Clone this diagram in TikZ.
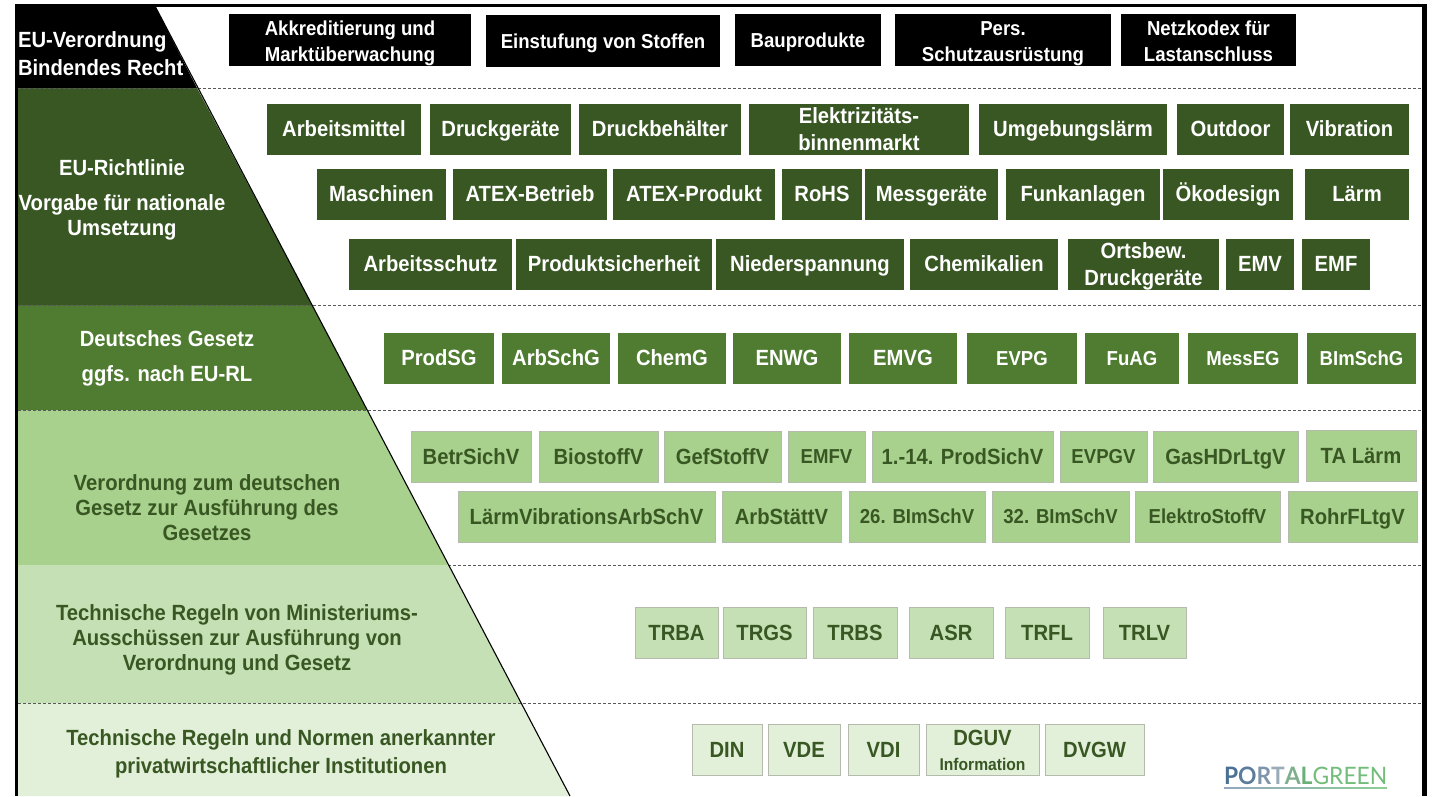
\documentclass[tikz,border=0pt]{standalone}
\usepackage{fontspec}
\setmainfont[FakeStretch=0.92]{Liberation Sans}
\newfontfamily\logofont[FakeStretch=0.95]{Lato}
\definecolor{bandblack}{HTML}{000000}
\definecolor{banddark}{HTML}{385723}
\definecolor{bandmid}{HTML}{4F7C31}
\definecolor{bandlight}{HTML}{A9D18E}
\definecolor{bandpale}{HTML}{C5E0B4}
\definecolor{bandfaint}{HTML}{E2F0D9}
\definecolor{boxedge}{HTML}{B4BBAC}
\definecolor{logoleft}{HTML}{93A8C0}
\definecolor{logomiddle}{HTML}{C4CFDA}
\definecolor{logoright}{HTML}{8CCE94}
\newcommand{\boxstrut}{\rule[-0.25em]{0pt}{1.2em}}
\tikzset{
    every node/.style={inner sep=0pt, outer sep=0pt},
    bigtext/.style={font=\bfseries\fontsize{22}{26}\selectfont},
    smalltext/.style={font=\bfseries\fontsize{20.2}{26}\selectfont},
    regbox/.style={minimum height=51pt, align=center, bigtext,
        execute at begin node=\boxstrut, execute at end node=\boxstrut},
    twolines/.style={text height=42.4pt, text depth=0pt},
    blackbox/.style={regbox, minimum height=52pt, fill=bandblack, text=white, smalltext},
    darkbox/.style={regbox, fill=banddark, text=white},
    midbox/.style={regbox, fill=bandmid, text=white},
    lightbox/.style={regbox, fill=bandlight, text=banddark, draw=boxedge, line width=0.6pt},
    palebox/.style={regbox, fill=bandpale, text=banddark, draw=boxedge, line width=0.6pt},
    faintbox/.style={regbox, fill=bandfaint, text=banddark, draw=boxedge, line width=0.6pt},
    bandlabel/.style={align=center, font=\bfseries\fontsize{22}{25}\selectfont,
        execute at begin node=\boxstrut, execute at end node=\boxstrut},
    bandline/.style={densely dashed, line width=0.7pt, color=black!65},
}
\begin{document}
\begin{tikzpicture}[x=1pt,y=-1pt]
    \useasboundingbox (0,0) rectangle (1435,796);
    % bands of the pyramid
    \fill[bandblack] (17,6) -- (155,6) -- (197,88) -- (17,88) -- cycle;
    \fill[banddark] (17,88) -- (197,88) -- (312,305) -- (17,305) -- cycle;
    \fill[bandmid] (17,305) -- (312,305) -- (367,410) -- (17,410) -- cycle;
    \fill[bandlight] (17,410) -- (367,410) -- (448,565) -- (17,565) -- cycle;
    \fill[bandpale] (17,565) -- (448,565) -- (521,703) -- (17,703) -- cycle;
    \fill[bandfaint] (17,703) -- (521,703) -- (570,796) -- (17,796) -- cycle;
    % separators
    \draw[bandline] (18,88) -- (1422,88);
    \draw[bandline] (18,305) -- (1422,305);
    \draw[bandline] (18,410) -- (1422,410);
    \draw[bandline] (448,565) -- (1422,565);
    \draw[bandline] (18,703) -- (1422,703);
    % frame and slope
    \draw[line width=1.1pt] (155,6) -- (570,796);
    \draw[line width=3pt] (16.5,796) -- (16.5,5.5) -- (1424,5.5);
    \draw[line width=5pt] (1424,4) -- (1424,796);
    % band labels
    \node[bandlabel, align=left, anchor=west, text=white] (lblregulation) at (18,56) {EU-Verordnung\\[3pt]Bindendes Recht};
    \node[bandlabel, text=white] (lbldirective) at (122,200.5) {EU-Richtlinie\\[10pt]Vorgabe für nationale\\Umsetzung};
    \node[bandlabel, text=white] (lbllaw) at (167,359) {Deutsches Gesetz\\[10pt]ggfs. nach EU-RL};
    \node[bandlabel, text=banddark] (lblordinance) at (207,510) {Verordnung zum deutschen\\Gesetz zur Ausführung des\\Gesetzes};
    \node[bandlabel, text=banddark] (lblrules) at (237,640) {Technische Regeln von Ministeriums-\\Ausschüssen zur Ausführung von\\Verordnung und Gesetz};
    \node[bandlabel, text=banddark] (lblnorms) at (281,754) {Technische Regeln und Normen anerkannter\\[3pt]privatwirtschaftlicher Institutionen};
    % regulations
    \node[blackbox, twolines, minimum width=242pt] (akkred) at (350,40) {Akkreditierung und\\Marktüberwachung};
    \node[blackbox, minimum width=234pt] (einstufung) at (603,41) {Einstufung von Stoffen};
    \node[blackbox, minimum width=146pt] (bauprodukte) at (808,40) {Bauprodukte};
    \node[blackbox, twolines, minimum width=216pt] (psa) at (1003,40) {Pers.\\Schutzausrüstung};
    \node[blackbox, twolines, minimum width=175pt] (netzkodex) at (1208.5,40) {Netzkodex für\\Lastanschluss};
    % directives
    \node[darkbox, minimum width=154pt] (arbeitsmittel) at (344,129) {Arbeitsmittel};
    \node[darkbox, minimum width=141pt] (druckgeraete) at (500.5,129) {Druckgeräte};
    \node[darkbox, minimum width=162pt] (druckbehaelter) at (660,129) {Druckbehälter};
    \node[darkbox, twolines, minimum width=220pt] (elektrizitaet) at (859,129) {Elektrizitäts-\\[1pt]binnenmarkt};
    \node[darkbox, minimum width=188pt] (umgebung) at (1073,129) {Umgebungslärm};
    \node[darkbox, minimum width=107pt] (outdoor) at (1230.5,129) {Outdoor};
    \node[darkbox, minimum width=119pt] (vibration) at (1349.5,129) {Vibration};
    \node[darkbox, minimum width=129pt] (maschinen) at (381.5,194) {Maschinen};
    \node[darkbox, minimum width=154pt] (atexbetrieb) at (530,194) {ATEX-Betrieb};
    \node[darkbox, minimum width=162pt] (atexprodukt) at (694,194) {ATEX-Produkt};
    \node[darkbox, minimum width=80pt] (rohs) at (822,194) {RoHS};
    \node[darkbox, minimum width=133pt] (messgeraete) at (931.5,194) {Messgeräte};
    \node[darkbox, minimum width=154pt] (funkanlagen) at (1083,194) {Funkanlagen};
    \node[darkbox, minimum width=130pt] (oekodesign) at (1228,194) {Ökodesign};
    \node[darkbox, minimum width=104pt] (laerm) at (1357,194) {Lärm};
    \node[darkbox, minimum width=163pt] (arbeitsschutz) at (430.5,264) {Arbeitsschutz};
    \node[darkbox, minimum width=196pt] (produktsicherheit) at (614,264) {Produktsicherheit};
    \node[darkbox, minimum width=188pt] (niederspannung) at (810,264) {Niederspannung};
    \node[darkbox, minimum width=148pt] (chemikalien) at (984,264) {Chemikalien};
    \node[darkbox, twolines, minimum width=151pt] (ortsbew) at (1143.5,264) {Ortsbew.\\[1pt]Druckgeräte};
    \node[darkbox, minimum width=68pt] (emv) at (1260,264) {EMV};
    \node[darkbox, minimum width=68pt] (emf) at (1336,264) {EMF};
    % german laws
    \node[midbox, minimum width=110pt] (prodsg) at (439,358) {ProdSG};
    \node[midbox, minimum width=108pt] (arbschg) at (556,358) {ArbSchG};
    \node[midbox, minimum width=108pt] (chemg) at (672,358) {ChemG};
    \node[midbox, minimum width=108pt] (enwg) at (787,358) {ENWG};
    \node[midbox, minimum width=108pt] (emvg) at (903,358) {EMVG};
    \node[midbox, smalltext, minimum width=110pt] (evpg) at (1022,358) {EVPG};
    \node[midbox, smalltext, minimum width=94pt] (fuag) at (1132,358) {FuAG};
    \node[midbox, smalltext, minimum width=110pt] (messeg) at (1243,358) {MessEG};
    \node[midbox, smalltext, minimum width=109pt] (bimschg) at (1361.5,358) {BImSchG};
    % ordinances
    \node[lightbox, minimum width=120pt] (betrsichv) at (471,456.5) {BetrSichV};
    \node[lightbox, minimum width=119pt] (biostoffv) at (598.5,456.5) {BiostoffV};
    \node[lightbox, minimum width=117pt] (gefstoffv) at (722.5,456.5) {GefStoffV};
    \node[lightbox, smalltext, minimum width=77pt] (emfv) at (826.5,456.5) {EMFV};
    \node[lightbox, minimum width=181pt] (prodsichv) at (962.5,456.5) {1.-14. ProdSichV};
    \node[lightbox, smalltext, minimum width=87pt] (evpgv) at (1103.5,456.5) {EVPGV};
    \node[lightbox, minimum width=145pt] (gashdrltgv) at (1225.5,456.5) {GasHDrLtgV};
    \node[lightbox, minimum width=110pt] (talaerm) at (1361,455.5) {TA Lärm};
    \node[lightbox, minimum width=257pt] (laermvib) at (586.5,516.5) {LärmVibrationsArbSchV};
    \node[lightbox, minimum width=119pt] (arbstaettv) at (781.5,516.5) {ArbStättV};
    \node[lightbox, smalltext, minimum width=136pt] (bimschv26) at (917,516.5) {26. BImSchV};
    \node[lightbox, smalltext, minimum width=137pt] (bimschv32) at (1060.5,516.5) {32. BImSchV};
    \node[lightbox, smalltext, minimum width=145pt] (elektrostoffv) at (1207.5,516.5) {ElektroStoffV};
    \node[lightbox, minimum width=129pt] (rohrfltgv) at (1352.5,516.5) {RohrFLtgV};
    % technical rules
    \node[palebox, minimum width=83pt] (trba) at (676.5,633) {TRBA};
    \node[palebox, minimum width=83pt] (trgs) at (764.5,633) {TRGS};
    \node[palebox, minimum width=84pt] (trbs) at (855,633) {TRBS};
    \node[palebox, minimum width=84pt] (asr) at (951,633) {ASR};
    \node[palebox, minimum width=84pt] (trfl) at (1047,633) {TRFL};
    \node[palebox, minimum width=83pt] (trlv) at (1144.5,633) {TRLV};
    % norms
    \node[faintbox, minimum width=70pt] (din) at (727,749.5) {DIN};
    \node[faintbox, minimum width=72pt] (vde) at (804,749.5) {VDE};
    \node[faintbox, minimum width=71pt] (vdi) at (883.5,749.5) {VDI};
    \node[faintbox, twolines, text height=42pt, minimum width=113pt] (dguv) at (982.5,749.5) {DGUV\\[-1pt]\fontsize{17}{20}\selectfont Information};
    \node[faintbox, minimum width=99pt] (dvgw) at (1094.5,749.5) {DVGW};
    % logo
    \node[anchor=west, font=\logofont\fontsize{24}{28}\selectfont] (logo) at (1224,776) {\textbf{\textcolor[HTML]{4A7096}{P}\textcolor[HTML]{5B7C9C}{O}\textcolor[HTML]{7E95AC}{R}\textcolor[HTML]{9AACB8}{T}\textcolor[HTML]{7FAE8E}{A}\textcolor[HTML]{6BB078}{L}}\textcolor[HTML]{72BD79}{GREEN}};
    \fill[left color=logoleft, middle color=logomiddle, right color=logoright] (1224,787) rectangle (1387,788.5);
\end{tikzpicture}
\end{document}
